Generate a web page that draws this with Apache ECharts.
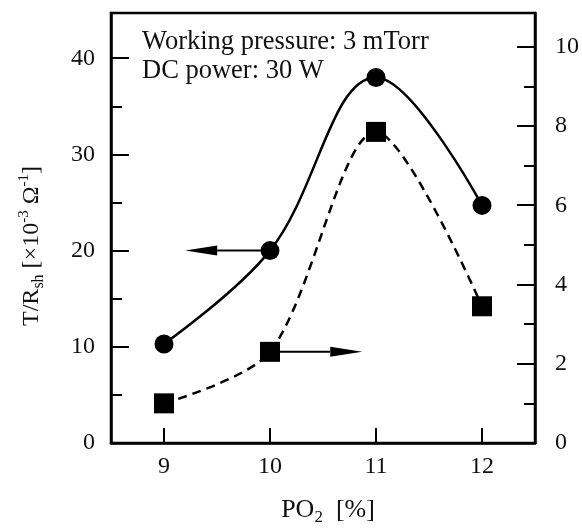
<!DOCTYPE html>
<html>
<head>
<meta charset="utf-8">
<script src="https://cdn.jsdelivr.net/npm/echarts@6/dist/echarts.min.js"></script>
<style>html,body{margin:0;padding:0;background:#fff;}#c{width:582px;height:531px;}</style>
</head>
<body>
<div id="c"></div>
<script>
// ---- data ----
const categories = ['9', '10', '11', '12'];          // PO2 [%]
const transRatio = [10.3, 20, 38, 24.7];             // T/Rsh, left axis (circles)
const rightSeries = [1.0, 2.3, 7.85, 3.45];          // right axis (squares)
const leftMax = 44.7;
const rightMax = 10.85;
const noteLines = ['Working pressure: 3 mTorr', 'DC power: 30 W'];
// arrow annotations (data units): start x value, y value, tip x value
const arrowLeft = { fromX: 10, y: 20, tipX: 9.2, axis: 0 };
const arrowRight = { fromX: 10, y: 2.3, tipX: 10.87, axis: 1 };

const FONT = 'Liberation Serif';
const INK = '#000';

const chart = echarts.init(document.getElementById('c'), null, { renderer: 'canvas' });

function yAxisBase(pos, max, interval, tickLen, showLine, showLabel, labelStep) {
  return {
    type: 'value', position: pos, min: 0, max: max, interval: interval,
    splitLine: { show: false },
    axisLine: { show: showLine, onZero: false, lineStyle: { color: INK, width: 2.5 } },
    axisTick: { show: true, inside: true, length: tickLen, lineStyle: { color: INK, width: 2 } },
    axisLabel: {
      show: showLabel, showMaxLabel: false, margin: pos === 'left' ? 16 : 20,
      color: '#111', fontFamily: FONT, fontSize: 24,
      formatter: function (v) { return (Math.abs(v / labelStep - Math.round(v / labelStep)) < 1e-6 && v <= max - 0.5) ? String(Math.round(v)) : ''; }
    }
  };
}

const yLeft = yAxisBase('left', leftMax, 5, 11, true, true, 10);
yLeft.name = '{n|T/R}{sub|sh}{n| [×10}{sup|-3}{n| Ω}{sup|-1}{n|]}';
yLeft.nameLocation = 'middle';
yLeft.nameRotate = 90;
yLeft.nameGap = 64;
yLeft.nameTextStyle = {
  fontFamily: FONT, color: '#111', padding: [0, 36, 0, 0],
  rich: {
    n: { fontFamily: FONT, fontSize: 24, lineHeight: 30, color: '#111', verticalAlign: 'middle' },
    sub: { fontFamily: FONT, fontSize: 16, lineHeight: 30, color: '#111', verticalAlign: 'bottom', padding: [11, 0, 0, 0] },
    sup: { fontFamily: FONT, fontSize: 15, lineHeight: 30, color: '#111', verticalAlign: 'top', padding: [0, 0, 9, 0] }
  }
};
const yRight = yAxisBase('right', rightMax, 1, 11, true, true, 2);
const yLeftMajor = yAxisBase('left', leftMax, 10, 18, false, false, 10);
const yRightMajor = yAxisBase('right', rightMax, 2, 18, false, false, 2);

const option = {
  animation: false,
  backgroundColor: '#fff',
  grid: { left: 111, right: 46, top: 13, bottom: 88, show: true, borderColor: INK, borderWidth: 2.5, containLabel: false },
  xAxis: {
    type: 'category', data: categories, boundaryGap: true,
    axisLine: { show: true, lineStyle: { color: INK, width: 2.5 } },
    axisTick: { show: true, inside: true, alignWithLabel: true, length: 15, lineStyle: { color: INK, width: 2 } },
    axisLabel: { color: '#111', fontFamily: FONT, fontSize: 24, margin: 12 },
    splitLine: { show: false },
    name: '{n|PO}{sub|2}{n|  [%]}',
    nameLocation: 'middle', nameGap: 51,
    nameTextStyle: {
      fontFamily: FONT, color: '#111', padding: [0, 0, 0, 10],
      rich: {
        n: { fontFamily: FONT, fontSize: 26, lineHeight: 32, color: '#111', verticalAlign: 'middle' },
        sub: { fontFamily: FONT, fontSize: 17, lineHeight: 32, color: '#111', verticalAlign: 'bottom', padding: [13, 0, 0, 0] }
      }
    }
  },
  yAxis: [yLeft, yRight, yLeftMajor, yRightMajor],
  series: [
    {
      name: 'T/Rsh', type: 'line', yAxisIndex: 0, data: transRatio,
      smooth: 0.38, symbol: 'circle', symbolSize: 19,
      itemStyle: { color: INK }, lineStyle: { color: INK, width: 2.5 }, z: 3
    },
    {
      name: 'right', type: 'line', yAxisIndex: 1, data: rightSeries,
      smooth: 0.3, symbol: 'rect', symbolSize: 20,
      itemStyle: { color: INK }, lineStyle: { color: INK, width: 2.5, type: [9, 6] }, z: 3
    }
  ],
  graphic: [
    {
      type: 'text', id: 'note', left: 142, top: 28, z: 10,
      style: { text: noteLines.join('\n'), fontFamily: FONT, fontSize: 26.5, lineHeight: 29, fill: '#111' }
    }
  ]
};
chart.setOption(option);

function xPix(val) {
  const first = Number(categories[0]);
  const p0 = chart.convertToPixel({ xAxisIndex: 0 }, 0);
  const p1 = chart.convertToPixel({ xAxisIndex: 0 }, 1);
  return p0 + (val - first) * (p1 - p0);
}
function yPix(axis, val) {
  return chart.convertToPixel({ yAxisIndex: axis }, val);
}
function arrowGraphics(a, id) {
  const y = yPix(a.axis, a.y);
  const x0 = xPix(a.fromX);
  const xt = xPix(a.tipX);
  const dir = xt < x0 ? 1 : -1;
  const headLen = 32, half = 5;
  const xb = xt + dir * headLen;
  return [
    { type: 'line', id: id + 'l', z: 2, shape: { x1: x0, y1: y, x2: xb, y2: y }, style: { stroke: INK, lineWidth: 2 } },
    { type: 'polygon', id: id + 'h', z: 2, shape: { points: [[xt, y], [xb, y - half], [xb, y + half]] }, style: { fill: INK } }
  ];
}
chart.setOption({ graphic: [].concat(arrowGraphics(arrowLeft, 'al'), arrowGraphics(arrowRight, 'ar')) });
</script>
</body>
</html>
